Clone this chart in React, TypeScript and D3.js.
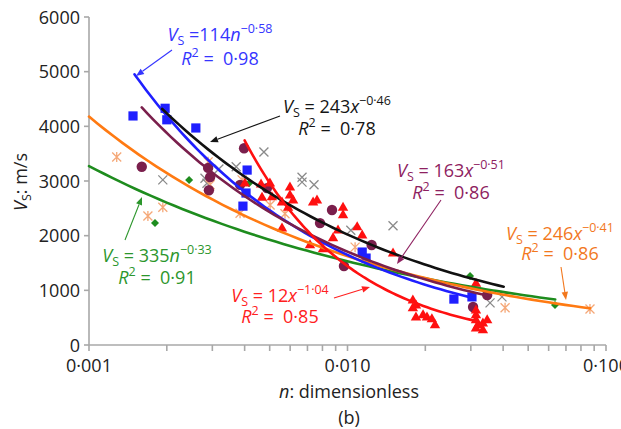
import React from 'react';
import * as d3 from 'd3';

const W = 621;
const H = 429;

// Axis ticks
const yTicks = [0, 1000, 2000, 3000, 4000, 5000, 6000];
const xMajor = [0.001, 0.01, 0.1];
const xTickLabels = ['0·001', '0·010', '0·100'];

// Measured points, [n, Vs]
const squarePts: [number, number][] = [
  [0.00148, 4190], [0.00197, 4330], [0.002, 4120], [0.00259, 3970],
  [0.00409, 3200], [0.00405, 2780], [0.00394, 2540], [0.0114, 1700],
  [0.0118, 1590], [0.0258, 840], [0.0303, 880],
];
const circlePts: [number, number][] = [
  [0.0016, 3260], [0.00289, 3240], [0.00294, 3070], [0.00291, 2830],
  [0.00398, 3600], [0.00384, 2930], [0.00488, 2870], [0.00871, 2470],
  [0.00783, 2230], [0.0124, 1830], [0.00969, 1445], [0.0306, 695],
  [0.0347, 915],
];
const crossPts: [number, number][] = [
  [0.00193, 3020], [0.00281, 3050], [0.00286, 2960], [0.00318, 3220],
  [0.00371, 3260], [0.00475, 3530], [0.00667, 3070], [0.00667, 2980],
  [0.00742, 2930], [0.0103, 2100], [0.015, 2180], [0.0356, 770],
  [0.0396, 880],
];
const diamondPts: [number, number][] = [
  [0.0018, 2230], [0.00244, 3020], [0.00416, 2960], [0.0298, 1260],
  [0.0635, 730],
];
const starPts: [number, number][] = [
  [0.00128, 3440], [0.00169, 2360], [0.00193, 2520], [0.00289, 3350],
  [0.00294, 2930], [0.00391, 3020], [0.00384, 2410], [0.00502, 2560],
  [0.00573, 2400], [0.0107, 1790], [0.0407, 680], [0.0867, 660],
];
const trianglePts: [number, number][] = [
  [0.00401, 2960], [0.00463, 2945], [0.00501, 2960], [0.00599, 2890],
  [0.00467, 2700], [0.0051, 2710], [0.00558, 2615], [0.00589, 2520],
  [0.00616, 2650], [0.00599, 2740], [0.00736, 2615], [0.00762, 2650],
  [0.00961, 2520], [0.00961, 2380], [0.00919, 2100], [0.0109, 2160],
  [0.0114, 2010], [0.00879, 1960], [0.00716, 1830], [0.00804, 1760],
  [0.00558, 2140], [0.015, 1680], [0.0314, 1130],
  [0.0179, 820], [0.0184, 730], [0.0179, 680], [0.0184, 510],
  [0.0196, 550], [0.0203, 510], [0.0212, 480], [0.0218, 370],
  [0.0314, 640], [0.0314, 550], [0.0314, 460], [0.032, 370],
  [0.0334, 400], [0.0347, 460], [0.0334, 275], [0.0314, 310],
];

// Power-law fits Vs = a·n^b, with their n ranges
const fitKeys = ['green', 'orange', 'blue', 'purple', 'black', 'red'];
const fitCoef = [335, 246, 114, 163, 243, 12];
const fitExp = [-0.33, -0.41, -0.58, -0.51, -0.46, -1.04];
const fitExpLabel = ['−0·33', '−0·41', '−0·58', '−0·51', '−0·46', '−1·04'];
const fitR2 = ['0·91', '0·86', '0·98', '0·86', '0·78', '0·85'];
const fitVar = ['n', 'x', 'n', 'x', 'x', 'x'];
const fitFrom = [0.001, 0.001, 0.0015, 0.0016, 0.00192, 0.004];
const fitTo = [0.0636, 0.0868, 0.031, 0.0348, 0.0402, 0.0319];

const lineColor: Record<string, string> = {
  green: '#1e8c1e', orange: '#ff7a12', blue: '#1f1fff',
  purple: '#7a1f4c', black: '#111111', red: '#ff1010',
};
const textColor: Record<string, string> = {
  green: '#2c962c', orange: '#f2781e', blue: '#3535ff',
  purple: '#8e2160', black: '#151515', red: '#ff2020',
};

// Label placement: centre x, two baselines, arrow start and tip
const labelLayout: Record<string, { cx: number; y1: number; y2: number; eqSpace: boolean; from: [number, number]; to: [number, number] }> = {
  blue: { cx: 220, y1: 41, y2: 65, eqSpace: false, from: [172, 50], to: [136, 76] },
  black: { cx: 337, y1: 113, y2: 135, eqSpace: true, from: [280, 116], to: [210, 142] },
  purple: { cx: 451, y1: 177, y2: 199, eqSpace: true, from: [441, 200], to: [397, 264] },
  green: { cx: 157, y1: 262, y2: 284, eqSpace: true, from: [125, 240], to: [142, 197] },
  red: { cx: 280, y1: 302, y2: 323, eqSpace: true, from: [334, 298], to: [370, 287] },
  orange: { cx: 560, y1: 240, y2: 260, eqSpace: true, from: [561, 267], to: [566, 300] },
};

const FONT = '"Open Sans", "Noto Sans", sans-serif';

function Arrow({ from, to, color }: { from: [number, number]; to: [number, number]; color: string }) {
  const ang = Math.atan2(to[1] - from[1], to[0] - from[0]);
  const len = 8;
  const hw = 3.2;
  const bx = to[0] - len * Math.cos(ang);
  const by = to[1] - len * Math.sin(ang);
  const px = -Math.sin(ang) * hw;
  const py = Math.cos(ang) * hw;
  return (
    <g>
      <line x1={from[0]} y1={from[1]} x2={bx} y2={by} stroke={color} strokeWidth={1.1} />
      <path d={`M${to[0]},${to[1]}L${bx + px},${by + py}L${bx - px},${by - py}Z`} fill={color} />
    </g>
  );
}

export default function App() {
  const x = d3.scaleLog().domain([0.001, 0.1]).range([89, 606]);
  const y = d3.scaleLinear().domain([0, 6000]).range([345, 17]);
  const minorTicks = x.ticks();

  const line = d3
    .line<[number, number]>()
    .x((d) => x(d[0]))
    .y((d) => y(d[1]))
    .curve(d3.curveMonotoneX);

  const fitPath = (i: number) => {
    const l0 = Math.log10(fitFrom[i]);
    const l1 = Math.log10(fitTo[i]);
    const pts: [number, number][] = d3.range(0, 61).map((k) => {
      const n = Math.pow(10, l0 + ((l1 - l0) * k) / 60);
      return [n, fitCoef[i] * Math.pow(n, fitExp[i])];
    });
    return line(pts) || '';
  };

  const tri = 'M0,-5.6L5.2,3.4L-5.2,3.4Z';
  const dia = 'M0,-4L4,0L0,4L-4,0Z';

  return (
    <svg
      width={W}
      height={H}
      viewBox={`0 0 ${W} ${H}`}
      style={{ position: 'absolute', left: 0, top: 0, background: '#fff' }}
      fontFamily={FONT}
    >
      <rect width={W} height={H} fill="#fff" />

      {/* axes */}
      <g stroke="#a8a8a8" strokeWidth={1.6}>
        <line x1={89} y1={y(6000)} x2={89} y2={y(0)} />
        <line x1={89} y1={y(0)} x2={x(0.1)} y2={y(0)} />
        {yTicks.map((t) => (
          <line key={t} x1={84} y1={y(t)} x2={89} y2={y(t)} />
        ))}
        {minorTicks.map((t, i) => (
          <line key={i} x1={x(t)} y1={y(0)} x2={x(t)} y2={y(0) + 6} />
        ))}
      </g>
      <g fontSize={18} fill="#222">
        {yTicks.map((t) => (
          <text key={t} x={80} y={y(t) + 6.5} textAnchor="end">
            {t}
          </text>
        ))}
        {xMajor.map((t, i) => (
          <text key={t} x={x(t)} y={371.5} textAnchor="middle">
            {xTickLabels[i]}
          </text>
        ))}
      </g>
      <text x={349} y={398} textAnchor="middle" fontSize={18} fill="#222">
        <tspan fontStyle="italic">n</tspan>: dimensionless
      </text>
      <text x={349} y={424} textAnchor="middle" fontSize={18} fill="#222">
        (b)
      </text>
      <text transform="translate(27,182) rotate(-90)" textAnchor="middle" fontSize={18} fill="#222">
        <tspan fontStyle="italic">V</tspan>
        <tspan fontSize={12.5} dy={4}>S</tspan>
        <tspan dy={-4}>: m/s</tspan>
      </text>

      {/* measured points */}
      <g stroke="#8a8a8a" strokeWidth={1.3} fill="none">
        {crossPts.map((d, i) => (
          <path key={i} transform={`translate(${x(d[0])},${y(d[1])})`} d="M-4.5,-4.5L4.5,4.5M-4.5,4.5L4.5,-4.5" />
        ))}
      </g>
      <g stroke="#f5a878" strokeWidth={1.3} fill="none">
        {starPts.map((d, i) => (
          <path key={i} transform={`translate(${x(d[0])},${y(d[1])})`} d="M-4.5,-4.5L4.5,4.5M-4.5,4.5L4.5,-4.5M0,-5L0,5" />
        ))}
      </g>
      <g fill={lineColor.green}>
        {diamondPts.map((d, i) => (
          <path key={i} transform={`translate(${x(d[0])},${y(d[1])})`} d={dia} />
        ))}
      </g>
      <g fill="#7a1f4c">
        {circlePts.map((d, i) => (
          <circle key={i} cx={x(d[0])} cy={y(d[1])} r={5.2} />
        ))}
      </g>
      <g fill={lineColor.blue}>
        {squarePts.map((d, i) => (
          <rect key={i} x={x(d[0]) - 4.6} y={y(d[1]) - 4.6} width={9.2} height={9.2} />
        ))}
      </g>
      <g fill={lineColor.red}>
        {trianglePts.map((d, i) => (
          <path key={i} transform={`translate(${x(d[0])},${y(d[1])})`} d={tri} />
        ))}
      </g>

      {/* fitted power laws */}
      <g fill="none" strokeWidth={2.6} strokeLinecap="round">
        {fitKeys.map((k, i) => (
          <path key={k} d={fitPath(i)} stroke={lineColor[k]} />
        ))}
      </g>

      {/* equation labels */}
      {fitKeys.map((k, i) => {
        const L = labelLayout[k];
        const c = textColor[k];
        return (
          <g key={k} fill={c} fontSize={18}>
            <text x={L.cx} y={L.y1} textAnchor="middle" xmlSpace="preserve">
              <tspan fontStyle="italic">V</tspan>
              <tspan fontSize={12.5} dy={4}>S</tspan>
              <tspan dy={-4}>{L.eqSpace ? ` = ${fitCoef[i]}` : ` =${fitCoef[i]}`}</tspan>
              <tspan fontStyle="italic">{fitVar[i]}</tspan>
              <tspan fontSize={12.5} dy={-8}>{fitExpLabel[i]}</tspan>
            </text>
            <text x={L.cx} y={L.y2} textAnchor="middle" xmlSpace="preserve">
              <tspan fontStyle="italic">R</tspan>
              <tspan fontSize={12.5} dy={-8}>2</tspan>
              <tspan dy={8}>{` =  ${fitR2[i]}`}</tspan>
            </text>
            <Arrow from={L.from} to={L.to} color={c} />
          </g>
        );
      })}
    </svg>
  );
}
